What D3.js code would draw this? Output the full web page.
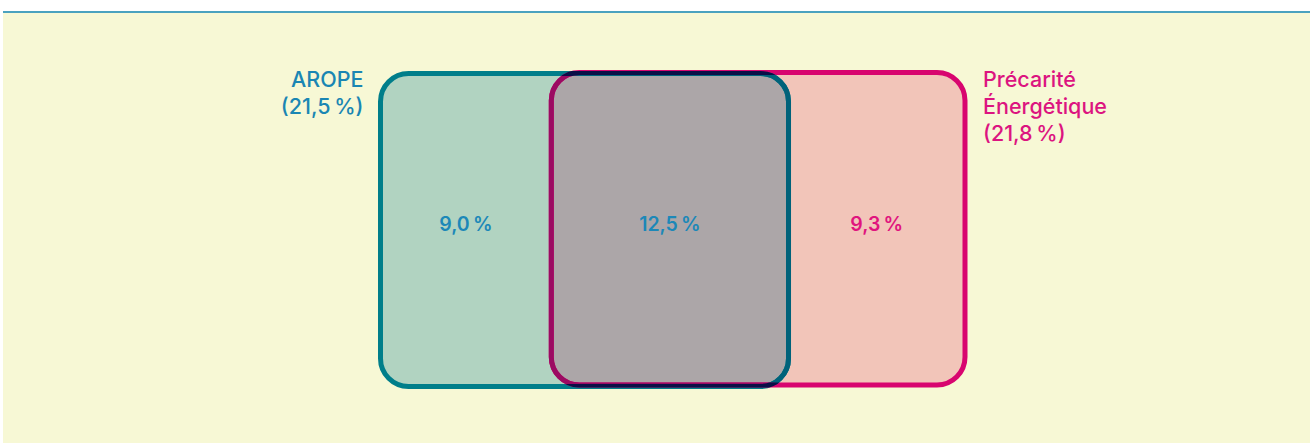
<!DOCTYPE html>
<html>
<head>
<meta charset="utf-8">
<style>
  html, body { margin: 0; padding: 0; background: #ffffff; }
  svg { display: block; }
  text { font-family: Inter, Roboto, "Noto Sans", sans-serif; }
</style>
</head>
<body>
<script src="https://d3js.org/d3.v7.min.js"></script>
<script>
// sets and their totals (% of population)
const setNames = ["AROPE", "Précarité Énergétique"];
const setLabels = [["AROPE", "(21,5\u202F%)"], ["Précarité", "Énergétique", "(21,8\u202F%)"]];
const setTotals = [21.5, 21.8];
// segments: only AROPE, both, only précarité
const segmentNames = ["AROPE seul", "Les deux", "Précarité seule"];
const segmentValues = [9.0, 12.5, 9.3];
const segmentLabels = ["9,0\u202F%", "12,5\u202F%", "9,3\u202F%"];

const W = 1310, H = 443;
const svg = d3.select("body").append("svg").attr("width", W).attr("height", H);

// panel
svg.append("rect").attr("x", 3).attr("y", 13).attr("width", W - 3).attr("height", H - 13).attr("fill", "#f7f8d5");
svg.append("rect").attr("x", 3).attr("y", 11).attr("width", W - 3).attr("height", 2).attr("fill", "#4ba2bf");

const total = d3.sum(segmentValues);
const x = d3.scaleLinear().domain([0, total]).range([380.5, 965]);

// set extents in % units
const spans = [
  [0, setTotals[0]],
  [segmentValues[0], segmentValues[0] + setTotals[1]]
];
const tops = [73.5, 72.5], bottoms = [386.5, 385];
const r = 28, sw = 5;

const defs = svg.append("defs");
function rr(sel, i) {
  return sel.attr("x", x(spans[i][0])).attr("y", tops[i])
    .attr("width", x(spans[i][1]) - x(spans[i][0])).attr("height", bottoms[i] - tops[i])
    .attr("rx", r).attr("ry", r);
}
// clip paths / masks
defs.append("clipPath").attr("id", "clipA").append("rect").call(rr, 0);
defs.append("mask").attr("id", "fillA").append("rect").call(rr, 0).attr("fill", "#fff");
defs.append("mask").attr("id", "fillB").append("rect").call(rr, 1).attr("fill", "#fff");
defs.append("mask").attr("id", "strokeB").append("rect").call(rr, 1)
  .attr("fill", "none").attr("stroke", "#fff").attr("stroke-width", sw);

const g = svg.append("g");
g.append("rect").call(rr, 0).attr("fill", "#b1d3c1");
g.append("rect").call(rr, 1).attr("fill", "#f2c5b9");
g.append("rect").call(rr, 1).attr("fill", "#aca6a8").attr("clip-path", "url(#clipA)");

g.append("rect").call(rr, 0).attr("fill", "none").attr("stroke", "#007e8a").attr("stroke-width", sw);
g.append("rect").call(rr, 1).attr("fill", "none").attr("stroke", "#d8056f").attr("stroke-width", sw);
g.append("rect").call(rr, 0).attr("fill", "none").attr("stroke", "#00627a").attr("stroke-width", sw).attr("mask", "url(#fillB)");
g.append("rect").call(rr, 1).attr("fill", "none").attr("stroke", "#9b0a62").attr("stroke-width", sw).attr("mask", "url(#fillA)");
g.append("rect").call(rr, 0).attr("fill", "none").attr("stroke", "#0b0f47").attr("stroke-width", sw).attr("mask", "url(#strokeB)");

// segment labels
const starts = d3.cumsum([0, ...segmentValues]);
const segColors = ["#1c88b8", "#1c88b8", "#e0147e"];
svg.append("g").selectAll("text").data(segmentLabels).join("text")
  .attr("x", (d, i) => x(starts[i] + segmentValues[i] / 2))
  .attr("y", 231)
  .attr("text-anchor", "middle")
  .attr("font-size", 19.5).attr("font-weight", 600)
  .attr("fill", (d, i) => segColors[i])
  .text(d => d);

// set labels
const setColors = ["#1a86b3", "#dc1480"];
const lab = svg.append("g");
setLabels.forEach((lines, i) => {
  const t = lab.append("text")
    .attr("x", i === 0 ? x(spans[0][0]) - 17 : x(spans[1][1]) + 18)
    .attr("y", 87)
    .attr("text-anchor", i === 0 ? "end" : "start")
    .attr("font-size", 21.5).attr("font-weight", 500)
    .attr("fill", setColors[i]);
  lines.forEach((l, j) => t.append("tspan").attr("x", t.attr("x")).attr("dy", j ? 27 : 0).text(l));
});
</script>
</body>
</html>
